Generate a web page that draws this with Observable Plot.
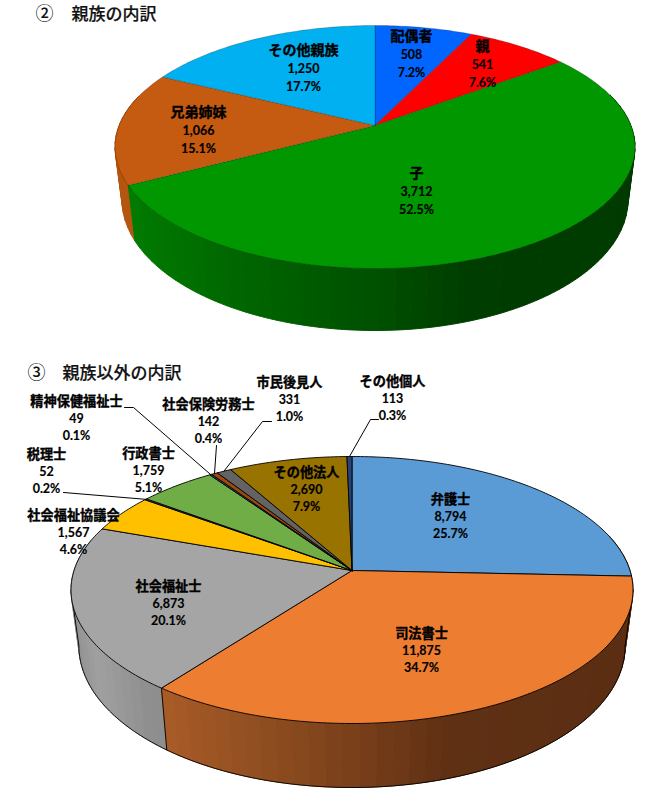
<!DOCTYPE html>
<html><head><meta charset="utf-8">
<style>html,body{margin:0;padding:0;background:#fff}svg{display:block}</style>
<script src="https://cdn.jsdelivr.net/npm/d3@7"></script>
<script src="https://cdn.jsdelivr.net/npm/@observablehq/plot@0.6"></script>
</head><body><div id="chart"></div>
<script>
// ---- data ----
const kinNames = ["配偶者","親","子","兄弟姉妹","その他親族"];
const kinValues = [508,541,3712,1066,1250];
const otherNames = ["弁護士","司法書士","社会福祉士","社会福祉協議会","税理士","行政書士","精神保健福祉士","社会保険労務士","市民後見人","その他法人","その他個人"];
const otherValues = [8794,11875,6873,1567,52,1759,49,142,331,2690,113];
const marksText = ["②","③"];
const titles = ["親族の内訳","親族以外の内訳"];

// ---- style ----
const kinColors = ["#0066ff","#ff0000","#009700","#c55a11","#00b0f0"];
const otherColors = ["#5b9bd5","#ed7d31","#a5a5a5","#ffc000","#2a4f8f","#70ad47","#255e91","#9e480e","#636363","#997300","#264478"];
// wall shading: colour by horizontal position on the disc (-1 left … 1 right)
const kinWall = {2:[[-0.95,"#007f00"],[-0.4,"#006400"],[0,"#005000"],[0.3,"#003d00"],[1,"#003a00"]],3:[[-1,"#b5560f"],[1,"#b5560f"]]};
const otherWall = {1:[[-0.7,"#b0602a"],[-0.2,"#8a4a1e"],[0.3,"#5f3014"],[1,"#5a2d12"]],2:[[-1,"#8b8b8b"],[-0.85,"#a0a0a0"],[-0.65,"#8e8e8e"],[1,"#8e8e8e"]],0:[[-1,"#5a2d12"],[1,"#5a2d12"]]};
// pie geometry in page pixels
const kinGeom = {cx:374.5,cy:125,up:100,down:143,halfW:260,depth:62,shrink:0.027};
const otherGeom = {cx:351.5,cy:570,up:114,down:153,halfW:281,depth:64,shrink:0.028};
// label anchors (page pixels) and leader elbows
const kinLabelX = [411,482,416,198,303], kinLabelY = [36,46,173,112,50];
const otherLabelX = [450,421,168,73,46,148,76,208,289,306,392], otherLabelY = [499,633,586,515,454,453,401,404,382,472,381];
const leaders = [
  {slice:10,via:[[370,419],[378,419]]},
  {slice:8,via:[[262,421],[271,421]]},
  {slice:7,via:[[216,445]]},
  {slice:6,via:[[133,407],[124,407]]},
  {slice:4,via:[[63,492]]}
];

// ---- geometry helpers ----
function projector(g){
  const k=(g.down-g.up)/(g.down+g.up), b=g.down*(1-k), a=g.halfW*Math.sqrt(1-k*k), H=g.depth*(1-k);
  const top=(t,r=1)=>{const u=r*Math.sin(t),v=-r*Math.cos(t),w=1-k*v;return [g.cx+a*u/w,g.cy+b*v/w,w];};
  const low=t=>{const [x,y,w]=top(t);return [g.cx+(x-g.cx)*(1-g.shrink),y+H/w];};
  return {k,top,low};
}
const TAU=Math.PI*2, STEP=TAU/360, WALLSTEP=TAU/120;
function buildPie(values,names,colors,wallStops,geom,id,labelX,labelY){
  const P=projector(geom), total=d3.sum(values);
  let c=0;
  const slices=values.map((v,i)=>{const a0=c/total*TAU;c+=v;const a1=c/total*TAU;return {i,v,a0,a1,mid:(a0+a1)/2,name:names[i],color:colors[i],pct:d3.format(".1%")(v/total),value:d3.format(",")(v),lx:labelX[i],ly:labelY[i]};});
  const tops=[],strips=[];
  for(const s of slices){
    const pts=[[geom.cx,geom.cy]];
    const n=Math.max(2,Math.ceil((s.a1-s.a0)/STEP));
    for(let j=0;j<=n;j++){const t=s.a0+(s.a1-s.a0)*j/n;pts.push(P.top(t));}
    pts.push([geom.cx,geom.cy]);
    pts.forEach(p=>tops.push({x:p[0],y:p[1],z:id+"-"+s.i,fill:s.color}));
    // wall strips
    const dark=d3.color(s.color).darker(1.2).formatHex();
    const stops=wallStops[s.i]||[[-1,dark],[1,dark]];
    const shade=d3.scaleLinear().domain(stops.map(d=>d[0])).range(stops.map(d=>d[1])).clamp(true);
    const m=Math.max(1,Math.ceil((s.a1-s.a0)/WALLSTEP));
    for(let j=0;j<m;j++){
      const t0=s.a0+(s.a1-s.a0)*j/m,t1=s.a0+(s.a1-s.a0)*(j+1)/m,tm=(t0+t1)/2;
      if(-Math.cos(tm)<-0.25) continue;
      const fill=shade(Math.sin(tm)), z=id+"w"+s.i+"_"+j, order=P.top(tm)[1];
      const side=[];
      for(let q=0;q<=4;q++) side.push(P.top(t0+(t1-t0)*q/4));
      for(let q=4;q>=0;q--) side.push(P.low(t0+(t1-t0)*q/4));
      side.push(side[0]);
      strips.push({order,fill,pts:side.map(p=>({x:p[0],y:p[1],z,fill}))});
    }
  }
  strips.sort((a,b)=>a.order-b.order);
  // visible lower edge and wall corners
  const sil=Math.PI/2+Math.asin(P.k);
  const lowerEdge=d3.range(sil,TAU-sil+STEP/2,STEP).map(t=>{const p=P.low(t);return {x:p[0],y:p[1],z:id+"low"};});
  const corners=[sil,TAU-sil,...slices.map(s=>s.a0).filter(t=>t>sil&&t<TAU-sil)].flatMap((t,i)=>[P.top(t),P.low(t)].map(p=>({x:p[0],y:p[1],z:id+"c"+i})));
  return {P,slices,tops,walls:strips.flatMap(s=>s.pts),lowerEdge,corners};
}
const kin=buildPie(kinValues,kinNames,kinColors,kinWall,kinGeom,"k",kinLabelX,kinLabelY);
const other=buildPie(otherValues,otherNames,otherColors,otherWall,otherGeom,"o",otherLabelX,otherLabelY);
const leaderPts=leaders.flatMap((l,i)=>{const s=other.slices[l.slice];return [other.P.top(s.mid),...l.via].map(p=>({x:p[0],y:p[1],z:i}));});
const titleRows=[{t:titles[0],x:71,y:14},{t:titles[1],x:62,y:373}];
const markRows=[{t:marksText[0],x:35,y:14},{t:marksText[1],x:27,y:373}];

const FONT='Lato,"Noto Sans CJK JP",sans-serif';
const JP='"Noto Sans CJK JP",sans-serif';
const xy={x:"x",y:"y"};
function labelMarks(pie,nameSize,gap){
  return [
    Plot.text(pie.slices,{x:"lx",y:"ly",text:"name",fontSize:nameSize,fontWeight:"bold",fill:"#000",stroke:"#000",strokeWidth:0.35,fontFamily:JP}),
    Plot.text(pie.slices,{x:"lx",y:"ly",dy:gap,text:"value",fontSize:12.5,fontWeight:"bold",fill:"#000",stroke:"#000",strokeWidth:0.15,fontFamily:FONT}),
    Plot.text(pie.slices,{x:"lx",y:"ly",dy:gap*2,text:"pct",fontSize:12.5,fontWeight:"bold",fill:"#000",stroke:"#000",strokeWidth:0.15,fontFamily:FONT})
  ];
}
const chart=Plot.plot({
  width:672,height:796,margin:0,
  x:{domain:[0,672],range:[0,672],axis:null},
  y:{domain:[0,796],range:[0,796],axis:null},
  color:{type:"identity"},
  style:{background:"#fff",fontFamily:FONT},
  marks:[
    Plot.line(kin.walls,{...xy,z:"z",fill:"fill",stroke:"fill",strokeWidth:1,strokeLinejoin:"round"}),
    Plot.line(kin.tops,{...xy,z:"z",fill:"fill",stroke:"#000",strokeOpacity:0.35,strokeWidth:0.6}),
    Plot.line(other.walls,{...xy,z:"z",fill:"fill",stroke:"fill",strokeWidth:1,strokeLinejoin:"round"}),
    Plot.line(other.lowerEdge,{...xy,z:"z",stroke:"#000",strokeWidth:0.9}),
    Plot.line(other.corners,{...xy,z:"z",stroke:"#000",strokeWidth:0.9}),
    Plot.line(other.tops,{...xy,z:"z",fill:"fill",stroke:"#000",strokeWidth:0.9}),
    Plot.line(leaderPts,{...xy,z:"z",stroke:"#000",strokeWidth:1}),
    ...labelMarks(kin,14,18),
    ...labelMarks(other,13.2,17),
    Plot.text(markRows,{x:"x",y:"y",text:"t",textAnchor:"start",fontSize:18,fontWeight:500,fill:"#111",fontFamily:JP}),
    Plot.text(titleRows,{x:"x",y:"y",text:"t",textAnchor:"start",fontSize:17,fontWeight:500,fill:"#111",stroke:"#111",strokeWidth:0.2,fontFamily:JP})
  ]
});
document.getElementById("chart").append(chart);
</script></body></html>
